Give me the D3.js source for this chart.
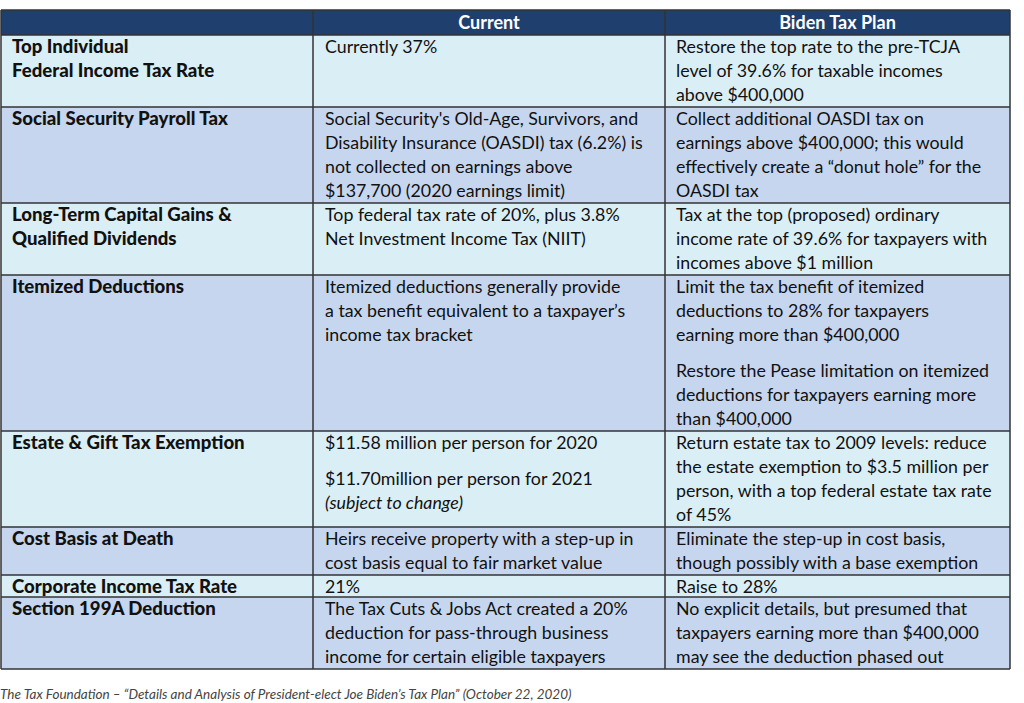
<!DOCTYPE html>
<html><head><meta charset="utf-8">
<script src="https://cdn.jsdelivr.net/npm/d3@7"></script>
<style>body{margin:0;background:#fff;}svg{display:block;}</style>
</head><body>
<script>
var headers=["","Current","Biden Tax Plan"];
var labels=[["Top Individual","Federal Income Tax Rate"],["Social Security Payroll Tax"],["Long-Term Capital Gains &","Qualified Dividends"],["Itemized Deductions"],["Estate & Gift Tax Exemption"],["Cost Basis at Death"],["Corporate Income Tax Rate"],["Section 199A Deduction"]];
// each cell: list of paragraphs, each paragraph a list of lines; lines starting with "_" are italic
var current=[
 [["Currently 37%"]],
 [["Social Security's Old-Age, Survivors, and","Disability Insurance (OASDI) tax (6.2%) is","not collected on earnings above","$137,700 (2020 earnings limit)"]],
 [["Top federal tax rate of 20%, plus 3.8%","Net Investment Income Tax (NIIT)"]],
 [["Itemized deductions generally provide","a tax benefit equivalent to a taxpayer\u2019s","income tax bracket"]],
 [["$11.58 million per person for 2020"],["$11.70million per person for 2021","_(subject to change)"]],
 [["Heirs receive property with a step-up in","cost basis equal to fair market value"]],
 [["21%"]],
 [["The Tax Cuts & Jobs Act created a 20%","deduction for pass-through business","income for certain eligible taxpayers"]]
];
var biden=[
 [["Restore the top rate to the pre-TCJA","level of 39.6% for taxable incomes","above $400,000"]],
 [["Collect additional OASDI tax on","earnings above $400,000; this would","effectively create a \u201cdonut hole\u201d for the","OASDI tax"]],
 [["Tax at the top (proposed) ordinary","income rate of 39.6% for taxpayers with","incomes above $1 million"]],
 [["Limit the tax benefit of itemized","deductions to 28% for taxpayers","earning more than $400,000"],["Restore the Pease limitation on itemized","deductions for taxpayers earning more","than $400,000"]],
 [["Return estate tax to 2009 levels: reduce","the estate exemption to $3.5 million per","person, with a top federal estate tax rate","of 45%"]],
 [["Eliminate the step-up in cost basis,","though possibly with a base exemption"]],
 [["Raise to 28%"]],
 [["No explicit details, but presumed that","taxpayers earning more than $400,000","may see the deduction phased out"]]
];
var source="The Tax Foundation \u2013 \u201cDetails and Analysis of President-elect Joe Biden\u2019s Tax Plan\u201d (October 22, 2020)";

var W=1024,H=703,lineH=24,gap=12,font="Lato, 'Open Sans', sans-serif";
var colX=[1,313,665,1010];
var svg=d3.select("body").append("svg").attr("width",W).attr("height",H);

function cellHeight(c){var n=0;c.forEach(function(p){n+=p.length;});return n*lineH+(c.length-1)*gap;}
var tops=[35],hs=[];
for(var i=0;i<labels.length;i++){
  var h=Math.max(labels[i].length*lineH,cellHeight(current[i]),cellHeight(biden[i]));
  if(labels[i].length==1&&cellHeight(current[i])==lineH&&cellHeight(biden[i])==lineH)h=22;
  hs.push(h);tops.push(tops[i]+h);
}
// header
svg.append("rect").attr("x",colX[0]).attr("y",10).attr("width",colX[3]-colX[0]).attr("height",25).attr("fill","#1f3f6e");
headers.forEach(function(t,j){
  svg.append("text").attr("x",(colX[j]+colX[j+1])/2).attr("y",29).attr("text-anchor","middle")
    .attr("font-family",font).attr("font-weight","bold").attr("font-size",18).attr("fill","#fff").text(t);
});
var g=svg.selectAll("g.row").data(labels).enter().append("g").attr("class","row");
g.append("rect").attr("x",colX[0]).attr("y",function(d,i){return tops[i];}).attr("width",colX[3]-colX[0])
  .attr("height",function(d,i){return hs[i];}).attr("fill",function(d,i){return i%2?"#c6d6ee":"#daeef5";});
function drawCell(i,x,paras,bold){
  var y=tops[i]+18;
  paras.forEach(function(p){
    p.forEach(function(l){
      var it=l.charAt(0)=="_";
      svg.append("text").attr("x",x).attr("y",y).attr("font-family",font).attr("font-size",bold?18.6:17.8)
        .attr("font-weight",bold?"900":"normal").attr("font-style",it?"italic":"normal").attr("fill","#111")
        .text(it?l.slice(1):l);
      y+=lineH;
    });
    y+=gap;
  });
}
labels.forEach(function(d,i){
  drawCell(i,12,[d],true);
  drawCell(i,325,current[i],false);
  drawCell(i,676,biden[i],false);
});
// grid lines
tops.forEach(function(t){svg.append("line").attr("x1",colX[0]).attr("x2",colX[3]).attr("y1",t).attr("y2",t).attr("stroke","#333").attr("stroke-width",1.5);});
svg.append("line").attr("x1",colX[0]).attr("x2",colX[3]).attr("y1",10).attr("y2",10).attr("stroke","#333").attr("stroke-width",1.5);
colX.forEach(function(x){svg.append("line").attr("x1",x).attr("x2",x).attr("y1",10).attr("y2",tops[tops.length-1]).attr("stroke","#333").attr("stroke-width",1.5);});
svg.append("text").attr("x",0).attr("y",699).attr("font-family",font).attr("font-style","italic").attr("font-size",13.5).attr("fill","#444").text(source);
</script>
</body></html>
